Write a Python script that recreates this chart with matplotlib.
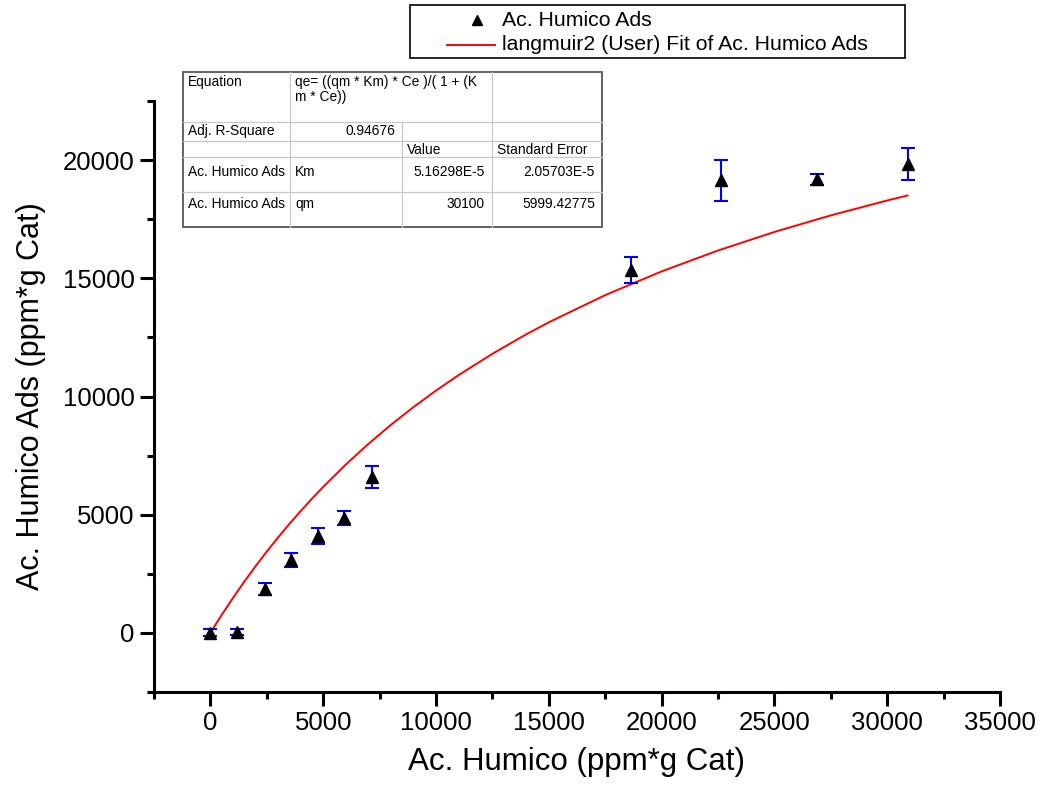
import matplotlib.pyplot as plt
from matplotlib.ticker import MultipleLocator
from matplotlib.patches import Rectangle
from matplotlib.lines import Line2D

plt.rcParams['font.family'] = ['Liberation Sans', 'DejaVu Sans']

# measured adsorption data
ce = [0, 1200, 2440, 3590, 4790, 5940, 7180, 18660, 22650, 26900, 30940]
qe = [0, 50, 1860, 3090, 4110, 4870, 6610, 15360, 19150, 19190, 19830]
qe_err = [150, 120, 260, 300, 340, 300, 470, 550, 870, 230, 680]

# langmuir2 fit curve
fit_ce = [0, 250, 500, 1000, 1500, 2000, 2500, 3000, 3500, 4000, 4500, 5000,
          6000, 7000, 8000, 9000, 10000, 11000, 12500, 14000, 15000, 17500,
          20000, 22500, 25000, 27500, 30000, 30900]
fit_qe = [0, 384, 757, 1478, 2164, 2817, 3441, 4037, 4607, 5152, 5675, 6176,
          7119, 7990, 8798, 9549, 10249, 10903, 11806, 12629, 13137, 14287,
          15291, 16175, 16960, 17661, 18291, 18502]

legend_labels = ['Ac. Humico Ads', 'langmuir2 (User) Fit of Ac. Humico Ads']

# fit result table
table_rows = [
    ['Equation', 'qe= ((qm * Km) * Ce )/( 1 + (K\nm * Ce))', '', ''],
    ['Adj. R-Square', '0.94676', '', ''],
    ['', '', 'Value', 'Standard Error'],
    ['Ac. Humico Ads', 'Km', '5.16298E-5', '2.05703E-5'],
    ['Ac. Humico Ads', 'qm', '30100', '5999.42775'],
]

fig = plt.figure(figsize=(10.4, 7.86), dpi=100)
ax = fig.add_axes([154 / 1040, 1 - 692 / 786, (1000 - 154) / 1040, (692 - 101) / 786])

ax.plot(fit_ce, fit_qe, color='red', lw=1.4, zorder=2)
ax.errorbar(ce, qe, yerr=qe_err, fmt='none', ecolor='blue', elinewidth=1.5,
            capsize=5, capthick=1.5, zorder=3)
ax.plot(ce, qe, ls='none', marker='^', color='black', ms=8.5, zorder=4)

ax.set_xlim(-2500, 35000)
ax.set_ylim(-2500, 22500)
ax.xaxis.set_major_locator(MultipleLocator(5000))
ax.xaxis.set_minor_locator(MultipleLocator(2500))
ax.yaxis.set_major_locator(MultipleLocator(5000))
ax.yaxis.set_minor_locator(MultipleLocator(2500))
ax.set_xticks([0, 5000, 10000, 15000, 20000, 25000, 30000, 35000])
ax.set_yticks([0, 5000, 10000, 15000, 20000])

for s in ['top', 'right']:
    ax.spines[s].set_visible(False)
for s in ['left', 'bottom']:
    ax.spines[s].set_linewidth(2.2)
ax.tick_params(which='major', length=10, width=2.2, labelsize=18.5, pad=4)
ax.tick_params(which='minor', length=5, width=2.2)

ax.set_xlabel('Ac. Humico (ppm*g Cat)', fontsize=22.5, labelpad=8)
ax.set_ylabel('Ac. Humico Ads (ppm*g Cat)', fontsize=22, labelpad=12)

# overlay in pixel coordinates for legend and table
ov = fig.add_axes([0, 0, 1, 1], zorder=5)
ov.set_xlim(0, 1040)
ov.set_ylim(786, 0)
ov.axis('off')

# legend box
ov.add_patch(Rectangle((410, 5), 495, 53, fill=True, facecolor='white',
                       edgecolor='black', lw=1.2))
ov.add_line(Line2D([477], [20], ls='none', marker='^', color='black', ms=7))
ov.add_line(Line2D([447, 495], [45, 45], color='red', lw=1.4))
ov.text(502, 20, legend_labels[0], fontsize=15.3, va='center', ha='left')
ov.text(502, 45, legend_labels[1], fontsize=15.3, va='center', ha='left')

# table
col_x = [183, 290, 402, 492, 602]
row_y = [72, 122, 141, 157, 192, 227]
ov.add_patch(Rectangle((col_x[0], row_y[0]), col_x[-1] - col_x[0], row_y[-1] - row_y[0],
                       facecolor='white', edgecolor='none'))
grid = '#c8c8c8'
for y in row_y[1:-1]:
    ov.plot([col_x[0], col_x[-1]], [y, y], color=grid, lw=0.9)
for i, x in enumerate(col_x[1:-1]):
    y0 = row_y[1] if i == 1 else row_y[0]
    ov.plot([x, x], [y0, row_y[-1]], color=grid, lw=0.9)
ov.add_patch(Rectangle((col_x[0], row_y[0]), col_x[-1] - col_x[0], row_y[-1] - row_y[0],
                       fill=False, edgecolor='#555555', lw=1.3))

text_top = [75, 124, 143, 165, 197]
right_cols = {(1, 1), (3, 2), (3, 3), (4, 2), (4, 3)}
for r, row in enumerate(table_rows):
    for c, txt in enumerate(row):
        if not txt:
            continue
        if (r, c) in right_cols:
            ov.text(col_x[c + 1] - 7, text_top[r], txt, fontsize=9.9, va='top', ha='right')
        else:
            ov.text(col_x[c] + 5, text_top[r], txt, fontsize=9.9, va='top', ha='left',
                    linespacing=1.1)

fig.savefig('out.png', dpi=100)
